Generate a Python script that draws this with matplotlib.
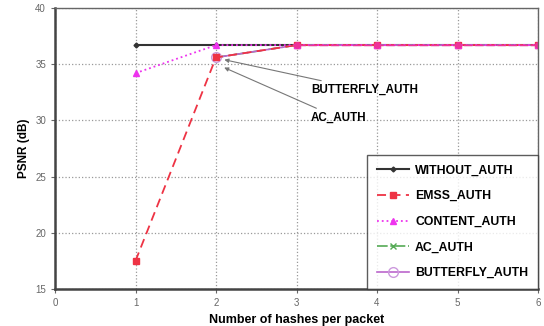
import matplotlib
matplotlib.use("Agg")
import matplotlib.pyplot as plt

plt.rcParams['font.family'] = ['Liberation Sans', 'DejaVu Sans']

hashes = [1, 2, 3, 4, 5, 6]
without_auth = [36.7, 36.7, 36.7, 36.7, 36.7, 36.7]
emss_auth = [17.5, 35.6, 36.7, 36.7, 36.7, 36.7]
content_auth = [34.2, 36.7, 36.7, 36.7, 36.7, 36.7]
hashes_ac = [2, 3, 4, 5, 6]
ac_auth = [35.6, 36.7, 36.7, 36.7, 36.7]
butterfly_auth = [35.6, 36.7, 36.7, 36.7, 36.7]

fig = plt.figure(figsize=(5.44, 3.26), dpi=100)
ax = fig.add_axes([55/544, 37/326, 483/544, 281/326])

ax.plot(hashes, without_auth, '-', color='#333333', lw=1.5, marker='D', ms=2.5,
        label='WITHOUT_AUTH')
ax.plot(hashes_ac, ac_auth, '-.', color='#55aa55', lw=1.2, marker='x', ms=4,
        label='AC_AUTH')
ax.plot(hashes_ac, butterfly_auth, '-', color='#bb66cc', lw=1.2, marker='o', ms=7,
        mfc='none', mec='#cc99dd', markevery=[0], label='BUTTERFLY_AUTH')
ax.plot(hashes, emss_auth, '--', color='#ee3344', lw=1.3, marker='s', ms=4,
        dashes=(5, 3), label='EMSS_AUTH')
ax.plot(hashes, content_auth, ':', color='#ee33ee', lw=1.3, marker='^', ms=4,
        label='CONTENT_AUTH')
# pink dashes and dots along the top line
ax.plot(hashes_ac[1:], butterfly_auth[1:], linestyle=(0, (6, 2)), color='#ee3399',
        lw=1.0, marker='o', ms=4)

ax.set_xlim(0, 6)
ax.set_ylim(15, 40)
ax.set_xticks(range(0, 7))
ax.set_yticks(range(15, 41, 5))
ax.grid(True, linestyle=':', color='#999999', lw=0.9)
ax.tick_params(labelsize=7, colors='#666666', length=3)
for side in ['left', 'bottom']:
    ax.spines[side].set_linewidth(1.8)
    ax.spines[side].set_color('#444444')
for side in ['top', 'right']:
    ax.spines[side].set_linewidth(1.0)
    ax.spines[side].set_color('#666666')

ax.set_xlabel('Number of hashes per packet', fontsize=9, fontweight='bold')
ax.set_ylabel('PSNR (dB)', fontsize=8.5, fontweight='bold')

ax.annotate('BUTTERFLY_AUTH', xy=(2.07, 35.45), xytext=(3.18, 32.7),
            fontsize=8.4, fontweight='bold', va='center',
            arrowprops=dict(arrowstyle='-|>', color='#777777', lw=0.8,
                            mutation_scale=6))
ax.annotate('AC_AUTH', xy=(2.07, 34.8), xytext=(3.18, 30.2),
            fontsize=8.4, fontweight='bold', va='center',
            arrowprops=dict(arrowstyle='-|>', color='#777777', lw=0.8,
                            mutation_scale=6))

handles, labels = ax.get_legend_handles_labels()
order = ['WITHOUT_AUTH', 'EMSS_AUTH', 'CONTENT_AUTH', 'AC_AUTH', 'BUTTERFLY_AUTH']
hmap = dict(zip(labels, handles))
leg = ax.legend([hmap[k] for k in order], order, loc='lower right',
                frameon=True, fancybox=False, edgecolor='#333333',
                borderaxespad=0.0, labelspacing=1.12, handlelength=2.6,
                handletextpad=0.5, borderpad=0.8,
                prop={'weight': 'bold', 'size': 8.8})
leg.get_frame().set_linewidth(1.0)

fig.savefig('out.png', dpi=100)
